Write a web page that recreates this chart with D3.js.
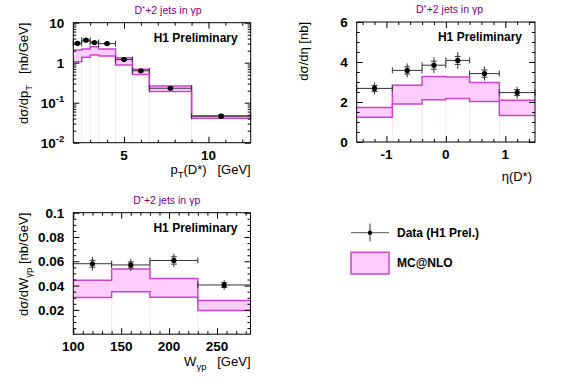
<!DOCTYPE html>
<html>
<head>
<meta charset="utf-8">
<script src="https://cdn.jsdelivr.net/npm/d3@7"></script>
<style>
  body { margin: 0; background: #fff; }
  svg { font-family: "Liberation Sans", Arial, Helvetica, sans-serif; }
  text { white-space: pre; }
</style>
</head>
<body>
<script>
// pT(D*) panel
const ptEdges = [2, 2.5, 3, 3.5, 4.5, 5.5, 6.5, 9, 12.5];
const ptData = [3.05, 3.65, 3.2, 3.0, 1.2, 0.63, 0.23, 0.046];
const ptTot = [0.45, 0.45, 0.4, 0.35, 0.13, 0.07, 0.025, 0.007];
const ptStat = [0.22, 0.2, 0.18, 0.15, 0.06, 0.035, 0.012, 0.004];
const ptMcHi = [2.08, 2.2, 2.5, 2.2, 1.33, 0.69, 0.26, 0.047];
const ptMcLo = [1.05, 1.36, 1.56, 1.47, 0.88, 0.51, 0.19, 0.041];

// eta(D*) panel
const etaEdges = [-1.5, -0.9, -0.4, 0, 0.4, 0.9, 1.5];
const etaData = [2.68, 3.58, 3.84, 4.08, 3.42, 2.47];
const etaTot = [0.3, 0.35, 0.4, 0.42, 0.35, 0.3];
const etaStat = [0.15, 0.18, 0.2, 0.2, 0.18, 0.15];
const etaMcHi = [1.72, 2.84, 3.27, 3.25, 2.97, 2.09];
const etaMcLo = [1.24, 1.9, 2.11, 2.17, 2.03, 1.32];

// W_gp panel
const wEdges = [100, 140, 180, 230, 285];
const wData = [0.058, 0.057, 0.0607, 0.0405];
const wTot = [0.0055, 0.005, 0.0055, 0.004];
const wStat = [0.0028, 0.0025, 0.003, 0.002];
const wMcHi = [0.0445, 0.0537, 0.0458, 0.0278];
const wMcLo = [0.0303, 0.035, 0.0305, 0.0195];

const BAND_FILL = "#ffccff";
const BAND_LINE = "#cc44cc";
const ERR = "#333";

const svg = d3.select("body").append("svg")
    .attr("width", 567).attr("height", 384);

function drawPanel(p) {
    const g = svg.append("g");
    const x = p.x, y = p.y;
    const [x0, x1] = x.range();
    const [yb, yt] = y.range();
    const n = p.data.length;
    const bins = d3.range(n).map(i => ({
        a: p.edges[i], b: p.edges[i + 1], c: (p.edges[i] + p.edges[i + 1]) / 2,
        v: p.data[i], tot: p.tot[i], stat: p.stat[i], hi: p.hi[i], lo: p.lo[i]
    }));

    // faint lines at the bin edges below the band
    g.selectAll("line.edge")
        .data(d3.range(1, n))
        .join("line")
        .attr("x1", i => x(p.edges[i])).attr("x2", i => x(p.edges[i]))
        .attr("y1", i => y(Math.min(p.lo[i - 1], p.lo[i])))
        .attr("y2", yb)
        .attr("stroke", "#f9e4f9").attr("stroke-width", 1);

    // MC band
    g.selectAll("rect.band")
        .data(bins)
        .join("rect")
        .attr("x", d => x(d.a)).attr("width", d => x(d.b) - x(d.a))
        .attr("y", d => y(d.hi)).attr("height", d => y(d.lo) - y(d.hi))
        .attr("fill", BAND_FILL);

    const step = key => d3.line()(bins.flatMap(d => [[x(d.a), y(d[key])], [x(d.b), y(d[key])]]));
    ["hi", "lo"].forEach(k => {
        g.append("path").attr("d", step(k))
            .attr("fill", "none").attr("stroke", BAND_LINE).attr("stroke-width", 1.5);
    });

    // data with error bars
    const pts = g.selectAll("g.pt").data(bins).join("g");
    pts.append("line")
        .attr("x1", d => x(d.a)).attr("x2", d => x(d.b))
        .attr("y1", d => y(d.v)).attr("y2", d => y(d.v))
        .attr("stroke", ERR);
    pts.append("path")
        .attr("d", d => `M${x(d.a)},${y(d.v) - 3}V${y(d.v) + 3}M${x(d.b)},${y(d.v) - 3}V${y(d.v) + 3}`)
        .attr("stroke", ERR).attr("fill", "none");
    pts.append("line")
        .attr("x1", d => x(d.c)).attr("x2", d => x(d.c))
        .attr("y1", d => y(d.v + d.tot)).attr("y2", d => y(d.v - d.tot))
        .attr("stroke", ERR);
    pts.append("path")
        .attr("d", d => `M${x(d.c) - 3},${y(d.v + d.stat)}h6M${x(d.c) - 3},${y(d.v - d.stat)}h6`)
        .attr("stroke", ERR).attr("fill", "none");
    pts.append("circle")
        .attr("cx", d => x(d.c)).attr("cy", d => y(d.v)).attr("r", 2.6)
        .attr("fill", "#000");

    // frame
    g.append("rect")
        .attr("x", x0).attr("y", yt).attr("width", x1 - x0).attr("height", yb - yt)
        .attr("fill", "none").attr("stroke", "#000").attr("stroke-width", 1);

    // ticks on all four sides, pointing inward
    const tickSet = (vals, len) => {
        g.append("g").attr("transform", `translate(0,${yb})`)
            .call(d3.axisBottom(x).tickValues(vals).tickSize(-len).tickFormat(""));
        g.append("g").attr("transform", `translate(0,${yt})`)
            .call(d3.axisTop(x).tickValues(vals).tickSize(-len).tickFormat(""));
    };
    const tickSetY = (vals, len) => {
        g.append("g").attr("transform", `translate(${x0},0)`)
            .call(d3.axisLeft(y).tickValues(vals).tickSize(-len).tickFormat(""));
        g.append("g").attr("transform", `translate(${x1},0)`)
            .call(d3.axisRight(y).tickValues(vals).tickSize(-len).tickFormat(""));
    };
    tickSet(p.xMajor, 6); tickSet(p.xMinor, 3);
    tickSetY(p.yMajor, 6); tickSetY(p.yMinor, 3);
    g.selectAll(".domain").remove();

    // tick labels
    g.selectAll("text.xl").data(p.xMajor).join("text")
        .attr("x", d => x(d)).attr("y", yb + 17)
        .attr("text-anchor", "middle").attr("font-size", 13.5).attr("font-weight", "bold")
        .text(d => p.xFmt(d));
    const yl = g.selectAll("text.yl").data(p.yMajor).join("text")
        .attr("x", x0 - 9).attr("y", d => y(d) + 5)
        .attr("text-anchor", "end").attr("font-size", 13.5).attr("font-weight", "bold");
    yl.each(function (d) {
        const t = d3.select(this), f = p.yFmt(d);
        t.append("tspan").text(f[0]);
        if (f[1]) t.append("tspan").attr("font-size", 9.5).attr("dy", -6).text(f[1]);
    });

    // axis titles
    const xt = g.append("text")
        .attr("x", p.xTitleX).attr("y", p.xTitleY)
        .attr("text-anchor", "end").attr("font-size", 13);
    p.xTitle.forEach(s => xt.append("tspan").attr("font-size", s.sub ? 9.5 : 13)
        .attr("dy", s.sub ? 4 : (s.back ? -4 : 0)).text(s.t));
    const yt2 = g.append("text")
        .attr("transform", `translate(${p.yTitleX},${yt}) rotate(-90)`)
        .attr("text-anchor", "end").attr("font-size", 13);
    p.yTitle.forEach(s => yt2.append("tspan").attr("font-size", s.sub ? 9.5 : 13)
        .attr("dy", s.sub ? 4 : (s.back ? -4 : 0)).text(s.t));

    // title and label
    const tt = g.append("text")
        .attr("x", p.titleX).attr("y", yt - 9)
        .attr("text-anchor", "middle").attr("font-size", 10.5).attr("fill", "#800080");
    tt.append("tspan").text("D");
    tt.append("tspan").attr("font-size", 8).attr("dy", -3).text("*");
    tt.append("tspan").attr("dy", 3).text("+2 jets in γp");

    g.append("text")
        .attr("x", x1 - 13).attr("y", yt + 19)
        .attr("text-anchor", "end").attr("font-size", 12).attr("font-weight", "bold")
        .text("H1 Preliminary");
}

const logMinor = [];
[0.01, 0.1, 1].forEach(dec => d3.range(2, 10).forEach(k => logMinor.push(k * dec)));

drawPanel({
    x: d3.scaleLinear().domain([2, 12.5]).range([73.3, 250.7]),
    y: d3.scaleLog().domain([0.01, 10]).range([142.7, 22.7]),
    edges: ptEdges, data: ptData, tot: ptTot, stat: ptStat, hi: ptMcHi, lo: ptMcLo,
    xMajor: [5, 10], xMinor: [3, 4, 6, 7, 8, 9, 11, 12],
    yMajor: [0.01, 0.1, 1, 10], yMinor: logMinor,
    xFmt: d => d,
    yFmt: d => d === 10 ? ["10"] : d === 1 ? ["1"] : ["10", String(Math.round(Math.log10(d)))],
    xTitle: [{t: "p"}, {t: "T", sub: true}, {t: "(D*)   [GeV]", back: true}],
    yTitle: [{t: "dσ/dp"}, {t: "T", sub: true}, {t: "   [nb/GeV]", back: true}],
    xTitleX: 250.7, xTitleY: 174, yTitleX: 28, titleX: 168
});

drawPanel({
    x: d3.scaleLinear().domain([-1.5, 1.5]).range([356.7, 535]),
    y: d3.scaleLinear().domain([0, 6]).range([142, 22]),
    edges: etaEdges, data: etaData, tot: etaTot, stat: etaStat, hi: etaMcHi, lo: etaMcLo,
    xMajor: [-1, 0, 1], xMinor: d3.range(-1.4, 1.5, 0.2).filter(v => Math.abs(v - Math.round(v)) > 0.01),
    yMajor: [0, 2, 4, 6], yMinor: d3.range(0.5, 6, 0.5).filter(v => v % 2 !== 0),
    xFmt: d => d,
    yFmt: d => [String(d)],
    xTitle: [{t: "η(D*)"}],
    yTitle: [{t: "dσ/dη [nb]"}],
    xTitleX: 532, xTitleY: 181, yTitleX: 307.5, titleX: 449.5
});

drawPanel({
    x: d3.scaleLinear().domain([100, 285]).range([73.3, 250.5]),
    y: d3.scaleLinear().domain([0, 0.1]).range([334.2, 212.7]),
    edges: wEdges, data: wData, tot: wTot, stat: wStat, hi: wMcHi, lo: wMcLo,
    xMajor: [100, 150, 200, 250], xMinor: d3.range(110, 285, 10).filter(v => v % 50 !== 0),
    yMajor: [0.02, 0.04, 0.06, 0.08, 0.1],
    yMinor: d3.range(0.005, 0.1, 0.005).filter(v => Math.abs(v / 0.02 - Math.round(v / 0.02)) > 0.01),
    xFmt: d => d,
    yFmt: d => [String(+d.toFixed(2))],
    xTitle: [{t: "W"}, {t: "γp", sub: true}, {t: "   [GeV]", back: true}],
    yTitle: [{t: "dσ/dW"}, {t: "γp", sub: true}, {t: " [nb/GeV]", back: true}],
    xTitleX: 250.5, xTitleY: 366, yTitleX: 28, titleX: 166.7
});

// legend
const leg = svg.append("g");
leg.append("line").attr("x1", 351).attr("x2", 389).attr("y1", 232.7).attr("y2", 232.7)
    .attr("stroke", "#555");
leg.append("line").attr("x1", 370).attr("x2", 370).attr("y1", 223.5).attr("y2", 241.5)
    .attr("stroke", "#333");
leg.append("circle").attr("cx", 370).attr("cy", 232.7).attr("r", 2.2).attr("fill", "#000");
leg.append("text").attr("x", 397).attr("y", 237).attr("font-size", 12).attr("font-weight", "bold")
    .text("Data (H1 Prel.)");
leg.append("rect").attr("x", 351).attr("y", 252.3).attr("width", 38).attr("height", 21.7)
    .attr("fill", BAND_FILL).attr("stroke", BAND_LINE).attr("stroke-width", 1.5);
leg.append("text").attr("x", 397).attr("y", 267).attr("font-size", 12).attr("font-weight", "bold")
    .text("MC@NLO");
</script>
</body>
</html>
